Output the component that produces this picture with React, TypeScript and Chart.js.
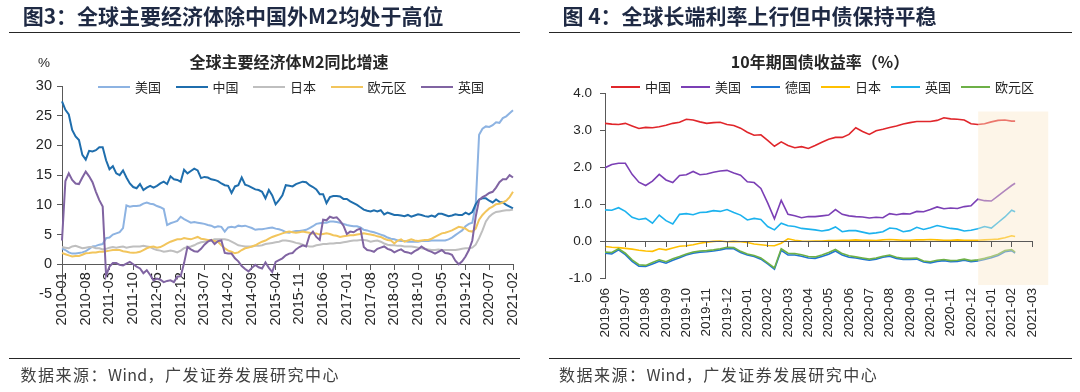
import React, { useEffect, useRef } from "react";
import { Chart, registerables } from "chart.js";

Chart.register(...registerables);

/* ================= Figure 3 : M2 YoY (monthly, 2010-01 .. 2021-02) ================= */
const M2_MONTHS: string[] = [];
for (let y = 2010; y <= 2021; y++) {
  for (let m = 1; m <= 12; m++) {
    if (y === 2021 && m > 2) break;
    M2_MONTHS.push(`${y}-${m < 10 ? "0" + m : m}`);
  }
}
const M2_LABEL_EVERY = 7;
const M2_Y_MIN = -5;
const M2_Y_MAX = 30;
const M2_Y_STEP = 5;

const M2_US = [
  2.7, 2.4, 2.0, 1.8, 1.8, 1.9, 2.0, 2.2, 2.6, 3.0, 3.1, 3.3,
  3.4, 4.4, 4.5, 5.0, 5.2, 5.4, 6.1, 9.9, 9.7, 9.8, 9.8, 9.9,
  10.2, 10.4, 10.2, 10.1, 9.8, 9.6, 9.3, 6.6, 6.9, 7.1, 7.3, 8.0,
  7.6, 7.3, 7.0, 7.1, 7.0, 6.9, 6.8, 6.6, 6.5, 6.2, 6.4, 6.3,
  5.5, 6.2, 6.3, 6.2, 6.5, 6.4, 6.5, 6.3, 6.1, 5.8, 5.9, 5.9,
  6.0, 6.1, 6.2, 6.0, 5.9, 5.7, 5.4, 5.3, 5.5, 5.6, 5.6, 5.7,
  5.8, 6.1, 6.4, 6.8, 6.9, 7.0, 7.0, 7.2, 7.2, 7.1, 7.0, 6.8,
  6.6, 6.5, 6.4, 6.4, 6.2, 5.8, 5.7, 5.5, 5.4, 5.2, 5.0, 4.8,
  4.5, 4.3, 4.2, 4.0, 3.9, 3.9, 3.8, 3.8, 3.8, 3.8, 3.9, 3.9,
  3.9, 4.0, 4.0, 4.0, 4.0, 4.0, 4.2, 4.5, 4.9, 5.3, 5.7, 6.4,
  6.8, 7.0, 10.0, 21.8, 22.8, 23.2, 23.1, 23.4, 23.9, 23.8, 24.6, 24.9,
  25.4, 25.9,
];
const M2_CN = [
  27.4, 26.0, 25.2, 22.6, 21.5, 20.9, 18.4, 17.6, 19.1, 19.0, 19.2, 19.7,
  19.7, 17.5, 16.0, 16.5, 15.3, 15.0, 15.8, 14.6, 13.6, 13.0, 12.8, 13.5,
  12.5, 12.9, 13.2, 12.9, 13.2, 13.6, 13.9, 13.5, 14.8, 14.3, 14.2, 13.9,
  15.9, 15.3, 15.7, 16.1, 15.8, 14.5, 14.7, 14.6, 14.3, 14.2, 14.0, 13.6,
  13.3, 13.2, 12.0, 13.1, 13.3, 14.6, 13.4, 13.2, 12.9, 12.6, 12.5, 12.2,
  11.1, 12.5, 11.6, 10.1, 10.8, 11.6, 13.3, 13.2, 13.1, 13.5, 13.7, 13.9,
  13.8, 13.3, 13.0, 12.6, 11.8, 11.8, 10.3, 11.3, 11.5, 11.5, 11.4, 11.0,
  11.0, 10.6, 10.3, 10.0, 9.6, 9.2, 9.0, 8.9, 9.1, 8.9, 9.1, 8.4,
  8.7, 8.5, 8.3, 8.3, 8.2, 8.1, 8.3, 8.0, 8.2, 8.4, 8.3, 8.1,
  8.0, 8.2, 8.0, 8.5, 8.5, 8.3, 8.1, 8.2, 8.4, 8.3, 8.3, 8.7,
  8.4, 8.8, 10.1, 10.9, 11.1, 11.1, 10.7, 10.4, 10.9, 10.5, 10.4, 10.0,
  9.7, 9.4,
];
const M2_JP = [
  2.9, 2.8, 2.7, 3.0, 3.1, 2.9, 2.7, 2.8, 2.9, 2.9, 2.7, 2.7,
  2.5, 2.6, 2.8, 2.9, 2.8, 2.9, 3.0, 2.8, 2.9, 3.0, 3.0, 3.0,
  3.1, 3.0, 2.9, 2.6, 2.4, 2.3, 2.1, 2.2, 2.3, 2.2, 2.0, 2.3,
  2.7, 2.9, 3.0, 3.2, 3.5, 3.7, 3.8, 3.9, 4.0, 4.2, 4.2, 4.2,
  4.2, 4.1, 3.8, 3.5, 3.2, 3.1, 3.0, 3.0, 3.0, 3.1, 3.1, 3.2,
  3.4, 3.5, 3.6, 3.7, 3.8, 4.0, 4.0, 3.9, 3.8, 3.6, 3.5, 3.3,
  3.1, 3.0, 3.0, 3.2, 3.3, 3.4, 3.4, 3.5, 3.5, 3.6, 3.6, 3.7,
  3.8, 3.9, 4.0, 4.0, 4.1, 4.1, 4.0, 3.8, 3.9, 4.0, 3.8, 3.5,
  3.3, 3.2, 3.2, 3.1, 3.1, 3.0, 3.0, 3.0, 2.9, 2.8, 2.7, 2.6,
  2.5, 2.4, 2.4, 2.5, 2.4, 2.4, 2.4, 2.4, 2.4, 2.5, 2.6, 2.7,
  2.7, 2.8, 3.3, 4.4, 5.7, 7.2, 8.0, 8.5, 8.8, 8.9, 9.0, 9.1,
  9.1, 9.2,
];
const M2_EU = [
  1.9, 1.7, 1.5, 1.3, 1.4, 1.4, 1.6, 1.85, 1.9, 2.0, 2.0, 2.1,
  2.1, 2.2, 2.3, 2.4, 2.4, 2.4, 2.2, 2.1, 2.0, 1.95, 2.0, 2.1,
  2.4, 2.7, 2.9, 3.0, 2.8, 2.9, 3.2, 3.5, 3.8, 4.0, 4.2, 4.2,
  4.4, 4.3, 4.2, 4.4, 4.6, 4.3, 4.2, 4.1, 4.1, 3.9, 3.8, 3.2,
  2.7, 2.3, 2.1, 1.85, 2.0, 2.4, 2.7, 2.8, 3.0, 3.2, 3.5, 3.8,
  4.0, 4.3, 4.6, 4.8, 5.0, 5.2, 5.4, 5.5, 5.4, 5.3, 5.4, 5.5,
  5.4, 5.3, 5.2, 5.2, 5.0, 5.1, 5.2, 5.1, 4.9, 4.8, 4.6, 4.7,
  4.8, 4.9, 4.9, 5.0, 5.1, 5.2, 5.1, 5.0, 4.9, 4.7, 4.6, 4.3,
  4.1, 4.0, 3.5, 4.0, 4.2, 3.8, 4.0, 4.2, 4.0, 3.9, 4.0, 4.1,
  4.1, 4.3, 4.6, 4.9, 5.2, 5.3, 5.5, 5.7, 6.0, 6.3, 6.2, 6.0,
  5.6, 5.5, 6.0, 7.5, 8.3, 8.9, 9.4, 9.7, 10.1, 10.2, 10.4, 10.7,
  11.3, 12.2,
];
const M2_UK = [
  4.0, 14.0, 15.3, 14.2, 13.6, 13.5, 14.6, 15.6, 14.8, 13.8, 12.2, 10.8,
  9.7, -1.9, -0.4, 0.2, 0.2, -0.1, -0.2, 0.1, 0.4, 0.0, -0.4, -0.7,
  -1.5, -1.0, -1.8, -2.7, -2.4, -2.6, -3.0, -2.8, -2.7, -3.0, -2.1, -2.0,
  0.2, 2.9, 2.5, 2.2, 2.1, 2.6, 3.3, 3.8, 4.1, 3.4, 3.9, 4.0,
  1.9, 1.8, 1.8, 1.0, 0.5, -0.3, -0.8, -1.2, -0.6, -0.1, -0.5, -0.7,
  0.3, -0.6, -1.3, 0.4, 0.7, 1.0, 1.5, 1.8, 1.9, 2.5, 2.9, 3.2,
  3.0, 4.9, 5.5, 4.6, 4.1, 7.5, 7.4, 8.0, 7.8, 7.9, 7.3, 6.5,
  5.1, 5.5, 5.4, 5.8, 6.0, 2.9, 2.4, 2.3, 2.1, 2.6, 2.8, 3.0,
  2.6, 2.4, 2.0, 2.3, 2.5, 2.1, 2.0, 1.8, 2.2, 2.5, 3.0, 2.6,
  2.3, 2.1, 1.8, 2.1, 2.4, 1.9, 1.8, 1.6, 0.6, 0.0, 0.5, 1.3,
  2.4, 4.0, 8.0, 10.8, 11.3, 11.6, 12.0, 12.2, 12.9, 13.8, 14.3, 14.3,
  15.0, 14.6,
];
const M2_NAMES = ["美国", "中国", "日本", "欧元区", "英国"];
const M2_SERIES = [M2_US, M2_CN, M2_JP, M2_EU, M2_UK];
const M2_COLORS = ["#8DB3E2", "#1F6EAD", "#BFBFBF", "#F2C55C", "#8064A2"];

/* ================= Figure 4 : 10Y yields (2019-06 .. 2021-02, ~10-day samples) ================= */
const RATE_MONTHS = [
  "2019-06", "2019-07", "2019-08", "2019-09", "2019-10", "2019-11", "2019-12",
  "2020-01", "2020-02", "2020-03", "2020-04", "2020-05", "2020-06", "2020-07",
  "2020-08", "2020-09", "2020-10", "2020-11", "2020-12", "2021-01", "2021-02", "2021-03",
];
// x position in months since 2019-06 (one sample every third of a month)
const RATE_X: number[] = [...Array.from({ length: 61 }, (_, k) => k / 3), 20.17];
const RATE_Y_MIN = -1;
const RATE_Y_MAX = 4;
const RATE_CN = [
  3.18, 3.16, 3.15, 3.18, 3.11, 3.04, 3.07, 3.06, 3.09, 3.13, 3.18, 3.21, 3.29, 3.27, 3.22, 3.18,
  3.20, 3.21, 3.15, 3.12, 3.05, 2.94, 2.86, 2.87, 2.72, 2.56, 2.68, 2.58, 2.52, 2.55, 2.50, 2.58,
  2.67, 2.75, 2.80, 2.80, 2.88, 3.06, 2.96, 2.88, 2.98, 3.02, 3.07, 3.11, 3.16, 3.20, 3.23, 3.23,
  3.23, 3.26, 3.33, 3.30, 3.29, 3.27, 3.17, 3.15, 3.17, 3.22, 3.26, 3.27, 3.24, 3.24,
];
const RATE_US = [
  1.98, 2.07, 2.10, 2.10, 1.80, 1.59, 1.50, 1.62, 1.80, 1.65, 1.58, 1.77, 1.79, 1.88, 1.79, 1.81,
  1.86, 1.89, 1.91, 1.84, 1.78, 1.60, 1.58, 1.42, 1.03, 0.60, 1.10, 0.72, 0.68, 0.63, 0.66, 0.66,
  0.68, 0.70, 0.85, 0.72, 0.68, 0.66, 0.65, 0.62, 0.64, 0.63, 0.74, 0.71, 0.74, 0.73, 0.80, 0.79,
  0.85, 0.92, 0.87, 0.89, 0.88, 0.93, 0.95, 1.13, 1.09, 1.08, 1.22, 1.36, 1.50, 1.56,
];
const RATE_DE = [
  -0.33, -0.35, -0.24, -0.37, -0.55, -0.68, -0.69, -0.62, -0.55, -0.60, -0.52, -0.45, -0.38, -0.33, -0.30, -0.29,
  -0.27, -0.24, -0.20, -0.21, -0.31, -0.38, -0.42, -0.49, -0.62, -0.76, -0.25, -0.38, -0.38, -0.41, -0.46, -0.47,
  -0.42, -0.36, -0.27, -0.38, -0.44, -0.46, -0.49, -0.52, -0.49, -0.44, -0.41, -0.47, -0.50, -0.50, -0.49, -0.57,
  -0.59, -0.55, -0.53, -0.56, -0.55, -0.52, -0.56, -0.54, -0.50, -0.45, -0.39, -0.29, -0.26, -0.33,
];
const RATE_JP = [
  -0.15, -0.17, -0.18, -0.20, -0.22, -0.25, -0.27, -0.28, -0.21, -0.24, -0.19, -0.14, -0.13, -0.10, -0.06, -0.03,
  -0.01, 0.00, -0.02, -0.01, -0.02, -0.04, -0.08, -0.10, -0.12, -0.13, -0.06, 0.06, 0.02, 0.00, -0.01, 0.00,
  0.00, 0.01, 0.01, 0.02, 0.02, 0.03, 0.02, 0.02, 0.01, 0.03, 0.04, 0.03, 0.02, 0.02, 0.03, 0.03,
  0.04, 0.03, 0.02, 0.02, 0.03, 0.02, 0.02, 0.02, 0.03, 0.04, 0.05, 0.09, 0.14, 0.12,
];
const RATE_UK = [
  0.84, 0.83, 0.90, 0.80, 0.64, 0.58, 0.61, 0.48, 0.70, 0.55, 0.46, 0.72, 0.74, 0.71, 0.77, 0.78,
  0.82, 0.80, 0.85, 0.77, 0.70, 0.57, 0.61, 0.58, 0.39, 0.30, 0.48, 0.41, 0.39, 0.34, 0.32, 0.30,
  0.27, 0.30, 0.38, 0.25, 0.28, 0.28, 0.24, 0.20, 0.22, 0.25, 0.35, 0.33, 0.25, 0.28, 0.37, 0.31,
  0.36, 0.42, 0.38, 0.34, 0.32, 0.27, 0.29, 0.33, 0.39, 0.35, 0.50, 0.65, 0.83, 0.79,
];
const RATE_EU = [
  -0.30, -0.31, -0.21, -0.33, -0.51, -0.64, -0.66, -0.58, -0.51, -0.56, -0.48, -0.42, -0.35, -0.30, -0.27, -0.26,
  -0.24, -0.21, -0.17, -0.18, -0.28, -0.35, -0.39, -0.46, -0.59, -0.73, -0.21, -0.33, -0.34, -0.37, -0.42, -0.43,
  -0.38, -0.31, -0.23, -0.34, -0.40, -0.43, -0.46, -0.49, -0.46, -0.41, -0.38, -0.44, -0.47, -0.47, -0.46, -0.54,
  -0.56, -0.52, -0.50, -0.53, -0.52, -0.49, -0.53, -0.51, -0.47, -0.42, -0.36, -0.26, -0.23, -0.30,
];
const RATE_NAMES = ["中国", "美国", "德国", "日本", "英国", "欧元区"];
const RATE_SERIES = [RATE_CN, RATE_US, RATE_DE, RATE_JP, RATE_UK, RATE_EU];
const RATE_COLORS = ["#E0262B", "#7B3FB5", "#1F75D2", "#FFC000", "#1CB2EE", "#6DB047"];
// highlighted period (in month units / yield units)
const RATE_SHADE = { from: 18.35, to: 21.8, top: 3.5, bottom: -1.19 };

/* ================= styles ================= */
const AXIS = "#595959";
const TICK_TEXT = "#262626";
const CJK = '"Noto Sans CJK SC", "Noto Sans", sans-serif';
const LATIN = '"Liberation Sans", Arial, sans-serif';

function M2Chart() {
  const ref = useRef<HTMLCanvasElement | null>(null);
  useEffect(() => {
    if (!ref.current) return;
    const chart = new Chart(ref.current, {
      type: "line",
      data: {
        labels: M2_MONTHS,
        datasets: M2_SERIES.map((vals, i) => ({
          label: M2_NAMES[i],
          data: vals,
          borderColor: M2_COLORS[i],
          backgroundColor: M2_COLORS[i],
          borderWidth: 2,
          pointRadius: 0,
          tension: 0,
          fill: false,
          order: M2_SERIES.length - i,
        })),
      },
      options: {
        responsive: false,
        maintainAspectRatio: false,
        animation: false,
        events: [],
        layout: { padding: { top: 86, bottom: 98, left: 8, right: 27 } },
        plugins: { legend: { display: false }, title: { display: false }, tooltip: { enabled: false } },
        scales: {
          x: {
            type: "category",
            position: { y: 0 } as any,
            grid: { drawOnChartArea: false, drawTicks: true, tickLength: 5, color: AXIS, tickColor: AXIS },
            border: { display: true, color: AXIS, width: 1 },
            ticks: {
              autoSkip: false,
              maxRotation: 90,
              minRotation: 90,
              padding: 3,
              color: TICK_TEXT,
              font: { family: LATIN, size: 14.5 },
              callback: (_v: any, i: number) => (i % M2_LABEL_EVERY === 0 ? M2_MONTHS[i] : null),
            },
          },
          y: {
            type: "linear",
            position: "left",
            min: M2_Y_MIN,
            max: M2_Y_MAX,
            grid: { drawOnChartArea: false, drawTicks: true, tickLength: 5, color: AXIS, tickColor: AXIS },
            border: { display: true, color: AXIS, width: 1 },
            ticks: {
              stepSize: M2_Y_STEP,
              padding: 5,
              color: TICK_TEXT,
              font: { family: LATIN, size: 14.5 },
              callback: (v: any) => String(v),
            },
            afterFit: (s: any) => {
              s.width = 54;
            },
          },
        },
      },
    });
    return () => chart.destroy();
  }, []);
  return <canvas ref={ref} width={540} height={392} style={{ position: "absolute", left: 0, top: 0 }} />;
}

function RateChart() {
  const ref = useRef<HTMLCanvasElement | null>(null);
  useEffect(() => {
    if (!ref.current) return;
    const shadePlugin = {
      id: "shade",
      afterDatasetsDraw(chart: any) {
        const { ctx, scales } = chart;
        const xs = scales.x;
        const ys = scales.y;
        const x1 = xs.getPixelForValue(RATE_SHADE.from);
        const x2 = xs.getPixelForValue(RATE_SHADE.to);
        const y1 = ys.getPixelForValue(RATE_SHADE.top);
        const y2 = ys.getPixelForValue(RATE_SHADE.bottom);
        ctx.save();
        ctx.fillStyle = "rgba(250, 232, 200, 0.42)";
        ctx.fillRect(x1, y1, x2 - x1, y2 - y1);
        ctx.restore();
        xs.draw(chart.chartArea);
      },
    };
    const chart = new Chart(ref.current, {
      type: "line",
      data: {
        datasets: RATE_SERIES.map((vals, i) => ({
          label: RATE_NAMES[i],
          data: vals.map((y, k) => ({ x: RATE_X[k], y })),
          borderColor: RATE_COLORS[i],
          backgroundColor: RATE_COLORS[i],
          borderWidth: 1.6,
          pointRadius: 0,
          tension: 0,
          fill: false,
          order: RATE_SERIES.length - i,
        })),
      },
      options: {
        responsive: false,
        maintainAspectRatio: false,
        animation: false,
        events: [],
        layout: { padding: { top: 93, bottom: 114, left: 8, right: 48 } },
        plugins: { legend: { display: false }, title: { display: false }, tooltip: { enabled: false } },
        scales: {
          x: {
            type: "linear",
            position: { y: 0 } as any,
            min: 0,
            max: RATE_MONTHS.length - 1,
            grid: { drawOnChartArea: false, drawTicks: true, tickLength: 5, color: AXIS, tickColor: AXIS },
            border: { display: true, color: AXIS, width: 1 },
            ticks: { stepSize: 1, display: false },
          },
          xLab: {
            type: "linear",
            axis: "x",
            position: { y: RATE_Y_MIN } as any,
            min: 0,
            max: RATE_MONTHS.length - 1,
            grid: { display: false, drawTicks: false },
            border: { display: false },
            ticks: {
              stepSize: 1,
              autoSkip: false,
              maxRotation: 90,
              minRotation: 90,
              padding: 10,
              color: TICK_TEXT,
              font: { family: LATIN, size: 13.5 },
              callback: (v: any) => (RATE_MONTHS[v] !== undefined ? RATE_MONTHS[v] : null),
            },
          } as any,
          y: {
            type: "linear",
            position: "left",
            min: RATE_Y_MIN,
            max: RATE_Y_MAX,
            grid: { drawOnChartArea: false, drawTicks: true, tickLength: 5, color: AXIS, tickColor: AXIS },
            border: { display: true, color: AXIS, width: 1 },
            ticks: {
              stepSize: 1,
              padding: 8,
              color: TICK_TEXT,
              font: { family: LATIN, size: 13.5 },
              callback: (v: any) => Number(v).toFixed(1),
            },
            afterFit: (s: any) => {
              s.width = 57;
            },
          },
        },
      },
      plugins: [shadePlugin],
    });
    return () => chart.destroy();
  }, []);
  return <canvas ref={ref} width={540} height={392} style={{ position: "absolute", left: 540, top: 0 }} />;
}

function Legend(props: { left: number; names: string[]; colors: string[]; line: number; gap: number; thick: number }) {
  const { left, names, colors, line, gap, thick } = props;
  return (
    <div style={{ position: "absolute", left, top: 77.3, height: 20, display: "flex", alignItems: "center", whiteSpace: "nowrap" }}>
      {names.map((n, i) => (
        <div key={n} style={{ display: "flex", alignItems: "center", marginRight: gap }}>
          <span style={{ display: "inline-block", width: line, height: thick, background: colors[i], marginRight: 5 }} />
          <span style={{ fontFamily: CJK, fontSize: 13, lineHeight: "20px", color: "#262626" }}>{n}</span>
        </div>
      ))}
    </div>
  );
}

const ruleStyle = (left: number, top: number, width: number): React.CSSProperties => ({
  position: "absolute",
  left,
  top,
  width,
  height: 1.5,
  background: "#262626",
});

function Footer(props: { left: number }) {
  return (
    <div
      style={{
        position: "absolute",
        left: props.left,
        top: 366,
        fontFamily: CJK,
        fontSize: 16,
        lineHeight: "16px",
        letterSpacing: 1.5,
        color: "#404040",
        whiteSpace: "nowrap",
      }}
    >
      数据来源：<span style={{ letterSpacing: 0.3 }}>Wind</span>，广发证券发展研究中心
    </div>
  );
}

export default function App() {
  const titleStyle: React.CSSProperties = {
    position: "absolute",
    top: 5.4,
    fontFamily: CJK,
    fontSize: 21,
    fontWeight: 700,
    lineHeight: "21px",
    color: "#1F2A44",
    whiteSpace: "nowrap",
  };
  const chartTitle: React.CSSProperties = {
    position: "absolute",
    top: 52.9,
    width: 240,
    textAlign: "center",
    fontFamily: CJK,
    fontSize: 16,
    fontWeight: 700,
    lineHeight: "16px",
    color: "#262626",
    whiteSpace: "nowrap",
  };
  return (
    <div
      style={{
        position: "absolute",
        left: 0,
        top: 0,
        width: 1080,
        height: 392,
        overflow: "hidden",
        background: "#ffffff",
        fontFamily: CJK,
      }}
    >
      <M2Chart />
      <RateChart />

      <div style={{ ...titleStyle, left: 22.7 }}>图3：全球主要经济体除中国外M2均处于高位</div>
      <div style={ruleStyle(8.6, 31.5, 511)} />
      <div style={{ ...chartTitle, left: 289 - 120 }}>全球主要经济体M2同比增速</div>
      <div
        style={{
          position: "absolute",
          left: 38,
          top: 55.6,
          fontFamily: LATIN,
          fontSize: 13.5,
          lineHeight: "13.5px",
          color: "#262626",
        }}
      >
        %
      </div>
      <Legend left={98} names={M2_NAMES} colors={M2_COLORS} line={32} gap={14.5} thick={2.2} />
      <div style={ruleStyle(8.6, 357.5, 511)} />
      <Footer left={20.6} />

      <div style={{ ...titleStyle, left: 562.4 }}>图 4：全球长端利率上行但中债保持平稳</div>
      <div style={ruleStyle(548.6, 31.5, 523)} />
      <div style={{ ...chartTitle, left: 820 - 120 }}>10年期国债收益率（%）</div>
      <Legend left={610.5} names={RATE_NAMES} colors={RATE_COLORS} line={29.5} gap={9.5} thick={1.8} />
      <div style={ruleStyle(548.6, 357.5, 523)} />
      <Footer left={559} />
    </div>
  );
}
